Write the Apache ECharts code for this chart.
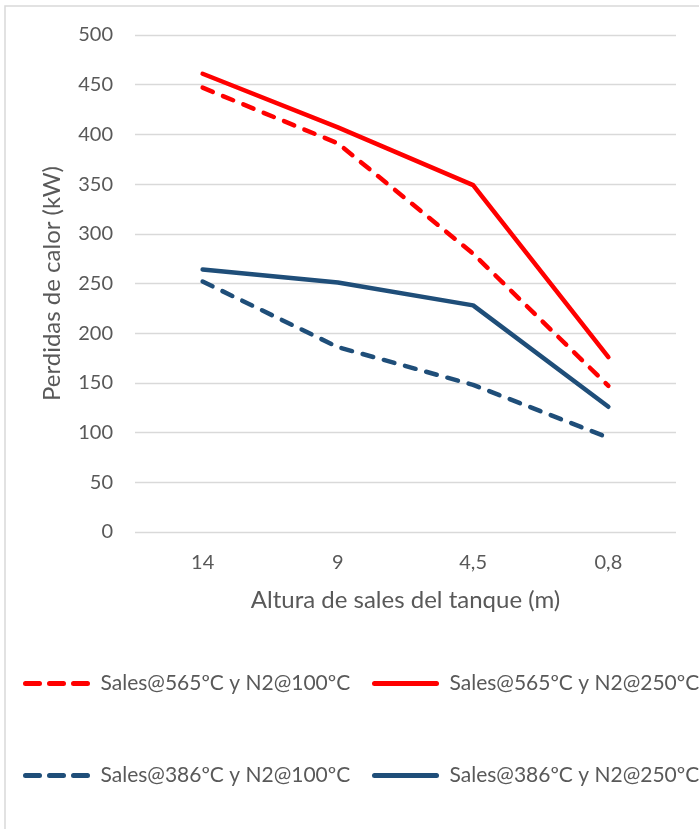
<!DOCTYPE html>
<html>
<head>
<meta charset="utf-8">
<script src="https://cdn.jsdelivr.net/npm/echarts@6/dist/echarts.min.js"></script>
<style>
  html, body { margin: 0; padding: 0; background: #fff; }
  #chart { width: 699px; height: 829px; }
</style>
</head>
<body>
<div id="chart"></div>
<script>
// categories on x axis (altura de sales)
var alturas = ['14', '9', '4,5', '0,8'];
var yTicks = [0, 50, 100, 150, 200, 250, 300, 350, 400, 450, 500];

var nombres = [
  'Sales@565ºC y N2@100ºC',
  'Sales@565ºC y N2@250ºC',
  'Sales@386ºC y N2@100ºC',
  'Sales@386ºC y N2@250ºC'
];
var s565_100 = [447, 391, 280, 147];
var s565_250 = [461, 407, 349, 176];
var s386_100 = [252, 186, 148, 95];
var s386_250 = [264, 251, 228, 126];

var ROJO = '#ff0000';
var AZUL = '#1f4e79';
var GRIS = '#595959';
var FONT = 'Lato, "Open Sans", sans-serif';

var chart = echarts.init(document.getElementById('chart'));

function serie(name, data, color, dashed) {
  return {
    name: name,
    type: 'line',
    data: data,
    symbol: 'none',
    smooth: false,
    lineStyle: {
      color: color,
      width: 4.5,
      cap: 'round',
      join: 'round',
      type: dashed ? [11, 11] : 'solid'
    },
    itemStyle: { color: color }
  };
}

// one legend per item so each sits where the original does
function leyenda(nombre, left, top, dashed) {
  return {
    data: [nombre],
    left: left,
    top: top,
    itemWidth: 62,
    itemHeight: 20,
    itemGap: 0,
    padding: 0,
    itemStyle: { opacity: 0 },
    lineStyle: { width: 5, cap: 'round', type: dashed ? [14, 10] : 'solid' },
    textStyle: { fontSize: 21, color: GRIS, fontFamily: FONT, padding: [0, 0, 0, 8] }
  };
}

chart.setOption({
  animation: false,
  backgroundColor: '#fff',
  textStyle: { fontFamily: FONT },
  graphic: [{
    type: 'rect',
    shape: { x: 5, y: 6, width: 720, height: 860 },
    style: { fill: 'none', stroke: '#d9d9d9', lineWidth: 1.5 },
    silent: true
  }],
  grid: { left: 135, right: 23, top: 35, bottom: 297 },
  legend: [
    leyenda(nombres[0], 23, 673, true),
    leyenda(nombres[1], 372, 673, false),
    leyenda(nombres[2], 23, 765, true),
    leyenda(nombres[3], 372, 765, false)
  ],
  xAxis: {
    type: 'category',
    data: alturas,
    boundaryGap: true,
    name: 'Altura de sales del tanque (m)',
    nameLocation: 'middle',
    nameGap: 56,
    nameTextStyle: { fontSize: 24, color: GRIS, fontFamily: FONT },
    axisLine: { show: false },
    axisTick: { show: false },
    axisLabel: { fontSize: 20, color: GRIS, margin: 21, fontFamily: FONT }
  },
  yAxis: {
    type: 'value',
    min: yTicks[0],
    max: yTicks[yTicks.length - 1],
    interval: 50,
    name: 'Perdidas de calor (kW)',
    nameLocation: 'middle',
    nameGap: 71,
    nameTextStyle: { fontSize: 24, color: GRIS, fontFamily: FONT },
    axisLine: { show: false },
    axisTick: { show: false },
    axisLabel: { fontSize: 20, color: GRIS, margin: 22, fontFamily: FONT },
    splitLine: { lineStyle: { color: '#d9d9d9', width: 1.3 } }
  },
  series: [
    serie(nombres[0], s565_100, ROJO, true),
    serie(nombres[1], s565_250, ROJO, false),
    serie(nombres[2], s386_100, AZUL, true),
    serie(nombres[3], s386_250, AZUL, false)
  ]
});

window.onresize = function () { chart.resize(); };
</script>
</body>
</html>
